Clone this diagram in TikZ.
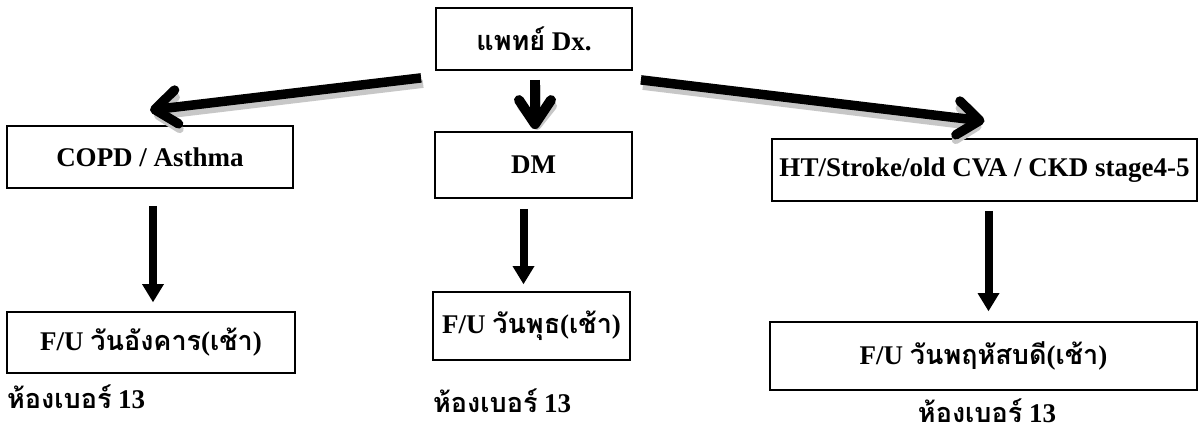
\documentclass[tikz,border=0pt]{standalone}
\usepackage{fontspec}
\setmainfont{Liberation Serif}
\newfontfamily\thaifont[Script=Thai]{Loma}
\usetikzlibrary{arrows.meta}
\begin{document}
\begin{tikzpicture}[x=1pt,y=-1pt,
  box/.style={draw, line width=1.8pt, inner sep=0pt, anchor=center,
    font=\bfseries\fontsize{27}{30}\selectfont},
  room/.style={inner sep=0pt, font=\bfseries\fontsize{27}{30}\selectfont},
  bigarrow/.style={line width=9.5pt, -{Straight Barb[round,length=22pt,width=34pt]}},
  midarrow/.style={line width=10pt, -{Straight Barb[round,length=24pt,width=32pt]}},
  shadowline/.style={draw=black!22, line width=8pt, -{Straight Barb[round,length=20pt,width=32pt]}},
  downarrow/.style={line width=8pt, -{Triangle[length=18pt,width=22pt,line width=0pt]}}]
\fill[white] (0,0) rectangle (1203,434);
\useasboundingbox (0,0) rectangle (1203,434);
% boxes
\node[box, minimum width=196pt, minimum height=62pt] (top) at (534,39) {{\thaifont แพทย์} Dx.};
\node[box, minimum width=286pt, minimum height=62pt] (copd) at (150,157) {COPD / Asthma};
\node[box, minimum width=197pt, minimum height=66pt] (dm) at (533.5,165) {DM};
\node[box, minimum width=425pt, minimum height=62pt] (ht) at (984.5,170) {HT/Stroke/old CVA / CKD stage4-5};
\node[box, minimum width=288pt, minimum height=61pt] (fu1) at (151,342.5) {F/U {\thaifont วันอังคาร}({\thaifont เช้า})};
\node[box, minimum width=197pt, minimum height=68pt] (fu2) at (531.5,326) {F/U {\thaifont วันพุธ}({\thaifont เช้า})};
\node[box, minimum width=427pt, minimum height=68pt] (fu3) at (983.5,356) {F/U {\thaifont วันพฤหัสบดี}({\thaifont เช้า})};
% room labels
\node[room, anchor=base west] (r1) at (7,408) {{\thaifont ห้องเบอร์} 13};
\node[room, anchor=base west] (r2) at (433,412) {{\thaifont ห้องเบอร์} 13};
\node[room, anchor=base] (r3) at (987,422) {{\thaifont ห้องเบอร์} 13};
% arrow shadows
\draw[shadowline] ([shift={(-12,13)}]top.south west) -- ([shift={(4,-9)}]copd.north);
\draw[shadowline, shorten <=14pt, shorten >=1pt] ([xshift=3pt]top.south) -- ([xshift=3.5pt]dm.north);
\draw[shadowline] ([shift={(10,15)}]top.south east) -- ([shift={(-3,-11)}]ht.north);
% arrows
\draw[bigarrow] ([shift={(-14,7)}]top.south west) -- ([shift={(0,-15)}]copd.north);
\draw[midarrow, shorten <=9pt, shorten >=2pt] ([xshift=1pt]top.south) -- ([xshift=1.5pt]dm.north);
\draw[bigarrow] ([shift={(8,9)}]top.south east) -- ([shift={(0,-17)}]ht.north);
\draw[downarrow, shorten <=17pt, shorten >=9pt] ([xshift=3pt]copd.south) -- ([xshift=2pt]fu1.north);
\draw[downarrow, shorten <=10pt, shorten >=7pt] ([xshift=-10pt]dm.south) -- ([xshift=-8pt]fu2.north);
\draw[downarrow, shorten <=9pt, shorten >=10pt] ([xshift=4pt]ht.south) -- ([xshift=5pt]fu3.north);
\end{tikzpicture}
\end{document}
